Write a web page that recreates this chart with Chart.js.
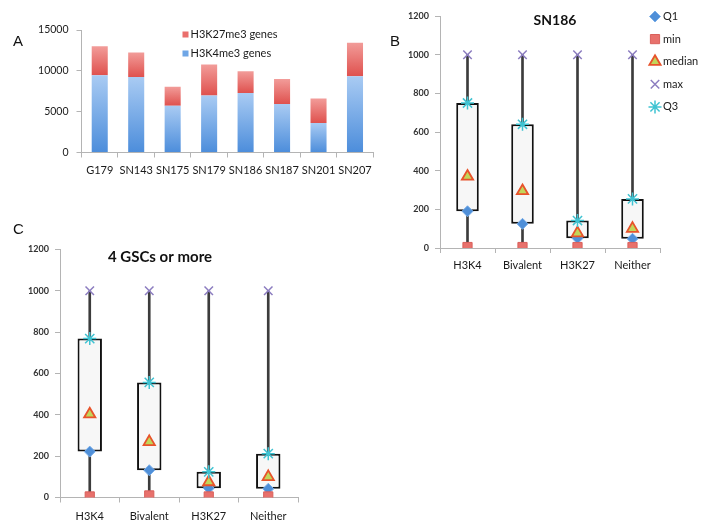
<!DOCTYPE html>
<html><head><meta charset="utf-8">
<script src="https://cdn.jsdelivr.net/npm/chart.js@4.4.1/dist/chart.umd.min.js"></script>
<style>
html,body{margin:0;padding:0;background:#fff;}
#wrap{position:relative;width:702px;height:520px;overflow:hidden;background:#fff;}
canvas{position:absolute;}
.lbl{position:absolute;font-family:'Liberation Sans',Arial,sans-serif;font-size:15px;color:#111;line-height:1;}
</style></head><body>
<div id="wrap">
<canvas id="cA" width="378" height="185" style="left:0;top:0"></canvas>
<canvas id="cB" width="322" height="275" style="left:380px;top:0"></canvas>
<canvas id="cC" width="310" height="290" style="left:0;top:230px"></canvas>
<div class="lbl" style="left:13px;top:33px">A</div>
<div class="lbl" style="left:390px;top:33px">B</div>
<div class="lbl" style="left:13px;top:221px">C</div>
</div>
<script>
// ---------- Panel A data ----------
const sampleNames = ['G179','SN143','SN175','SN179','SN186','SN187','SN201','SN207'];
const h3k4Genes  = [9470, 9230, 5730, 6990, 7280, 5940, 3620, 9350];
const h3k27Genes = [3530, 3020, 2320, 3780, 2680, 3050, 3000, 4100];
const countTicks = [0, 5000, 10000, 15000];

// ---------- Panels B & C data ----------
const boxCategories = ['H3K4','Bivalent','H3K27','Neither'];
const sn186Q1     = [190, 125, 50, 48];
const sn186Min    = [5, 5, 5, 5];
const sn186Median = [370, 295, 77, 100];
const sn186Max    = [1000, 1000, 1000, 1000];
const sn186Q3     = [750, 640, 142, 254];

const gscQ1     = [222, 132, 45, 42];
const gscMin    = [5, 10, 5, 5];
const gscMedian = [403, 269, 75, 100];
const gscMax    = [1000, 1000, 1000, 1000];
const gscQ3     = [769, 557, 124, 212];
const rankTicks = [0, 200, 400, 600, 800, 1000, 1200];

const FONT = "Lato, 'Open Sans', sans-serif";
Chart.defaults.font.family = FONT;
Chart.defaults.color = '#222';

const AXIS = '#b4b4b4';

function drawMarker(ctx, o, x, y) {
  if (Chart.helpers && Chart.helpers.drawPoint) {
    Chart.helpers.drawPoint(ctx, o, x, y);
  } else {
    ctx.beginPath(); ctx.arc(x, y, o.radius, 0, Math.PI * 2); ctx.fill(); ctx.stroke();
  }
}

const miniLegend = {
  id: 'miniLegend',
  afterDraw(chart) {
    const opts = chart.options.miniLegendCfg;
    if (!opts) return;
    const ctx = chart.ctx;
    ctx.save();
    if (opts.title) {
      ctx.font = opts.title.font;
      ctx.fillStyle = '#111';
      ctx.textAlign = 'center';
      ctx.textBaseline = 'middle';
      ctx.fillText(opts.title.text, opts.title.x, opts.title.y);
    }
    ctx.font = opts.font;
    ctx.textAlign = 'left';
    ctx.textBaseline = 'middle';
    opts.items.forEach((idx, k) => {
      const ds = chart.data.datasets[idx];
      const x = opts.x, y = opts.y + k * opts.gap;
      if (opts.kind === 'box') {
        ctx.fillStyle = ds.legendColor;
        ctx.fillRect(x - opts.size / 2, y - opts.size / 2, opts.size, opts.size);
      } else {
        ctx.fillStyle = ds.pointBackgroundColor;
        ctx.strokeStyle = ds.pointBorderColor;
        ctx.lineWidth = ds.pointBorderWidth;
        drawMarker(ctx, {pointStyle: ds.pointStyle, radius: ds.pointRadius, rotation: 0, borderWidth: ds.pointBorderWidth}, x, y);
      }
      ctx.fillStyle = '#1a1a1a';
      ctx.fillText(ds.label, x + opts.textOffset, y);
    });
    ctx.restore();
  }
};

function barGradient(c, lowArr, highArr, cTop, cBot, fallback) {
  const chart = c.chart;
  const ys = chart.scales && chart.scales.y;
  if (!ys || c.dataIndex === undefined) return fallback;
  const i = c.dataIndex;
  const yTop = ys.getPixelForValue(highArr[i]);
  const yBot = ys.getPixelForValue(lowArr[i]);
  if (!isFinite(yTop) || !isFinite(yBot) || yTop === yBot) return fallback;
  const g = chart.ctx.createLinearGradient(0, yTop, 0, yBot);
  g.addColorStop(0, cTop);
  g.addColorStop(1, cBot);
  return g;
}
const zeros = sampleNames.map(() => 0);
const totals = h3k4Genes.map((v, i) => v + h3k27Genes[i]);

function axisCommon() {
  return {
    grid: {display: true, drawOnChartArea: false, drawTicks: true, tickLength: 5, color: AXIS},
    border: {display: true, color: AXIS, width: 1}
  };
}
const plain = v => String(v);

// ---------- Panel A ----------
new Chart(document.getElementById('cA'), {
  type: 'bar',
  data: {
    labels: sampleNames,
    datasets: [
      {label: 'H3K4me3 genes', data: h3k4Genes, legendColor: '#6fa6e6',
       backgroundColor: c => barGradient(c, zeros, h3k4Genes, '#a9cbf3', '#4c8ddb', '#6fa6e6'),
       barPercentage: 0.44, categoryPercentage: 1, borderWidth: 0},
      {label: 'H3K27me3 genes', data: h3k27Genes, legendColor: '#ea6f6c',
       backgroundColor: c => barGradient(c, h3k4Genes, totals, '#f29c99', '#df514e', '#ea6f6c'),
       barPercentage: 0.44, categoryPercentage: 1, borderWidth: 0}
    ]
  },
  options: {
    responsive: false, animation: false, devicePixelRatio: 1,
    layout: {padding: {left: 0, top: 30, right: 4, bottom: 0}},
    plugins: {legend: {display: false}, tooltip: {enabled: false}},
    miniLegendCfg: {kind: 'box', items: [1, 0], x: 185.5, y: 34.5, gap: 19, size: 6, textOffset: 5, font: "11px " + FONT},
    scales: {
      x: Object.assign(axisCommon(), {stacked: true, afterFit: s => { s.height = 32.5; },
        ticks: {font: {size: 11}, color: '#1a1a1a', padding: 6, maxRotation: 0, autoSkip: false}}),
      y: Object.assign(axisCommon(), {stacked: true, min: 0, max: 15000,
        afterFit: s => { s.width = 81.5; },
        afterBuildTicks: s => { s.ticks = countTicks.map(v => ({value: v})); },
        ticks: {font: {size: 10.5}, color: '#1a1a1a', padding: 8, callback: plain}})
    }
  },
  plugins: [miniLegend]
});

// ---------- Box panels ----------
function pointDs(label, data, style, bg, border, bw, radius, order) {
  return {type: 'line', label, data, showLine: false, order,
    pointStyle: style, pointRadius: radius, pointHoverRadius: radius,
    pointBackgroundColor: bg, pointBorderColor: border, pointBorderWidth: bw,
    backgroundColor: bg, borderColor: border};
}

function boxChart(id, cfg) {
  return new Chart(document.getElementById(id), {
    type: 'bar',
    data: {
      labels: boxCategories,
      datasets: [
        pointDs('Q1', cfg.q1, 'rectRot', '#4f8fd8', '#7aaee8', 1, 5.5, 5),
        pointDs('min', cfg.min, 'rect', '#e8716c', '#d9605b', 1, 6.5, 4),
        pointDs('median', cfg.median, 'triangle', '#c2d65a', '#e8532b', 1.8, 6.5, 3),
        pointDs('max', cfg.max, 'crossRot', '#8c7dc0', '#8c7dc0', 1.5, 6, 2),
        pointDs('Q3', cfg.q3, 'star', '#3fc3d2', '#3fc3d2', 1.5, 6.5, 1),
        {type: 'bar', label: 'range', data: cfg.min.map((v, i) => [v, cfg.max[i]]),
         backgroundColor: '#3c3c3c', barThickness: 2, grouped: false, order: 30, borderWidth: 0},
        {type: 'bar', label: 'IQR', data: cfg.q1.map((v, i) => [v, cfg.q3[i]]),
         backgroundColor: '#f7f7f7', borderColor: '#111', borderWidth: 2, borderSkipped: false,
         grouped: false, barPercentage: 0.41, categoryPercentage: 1, order: 20}
      ]
    },
    options: {
      responsive: false, animation: false, devicePixelRatio: 1,
      layout: {padding: cfg.padding},
      plugins: {legend: {display: false}, tooltip: {enabled: false}},
      miniLegendCfg: cfg.legend,
      scales: {
        x: Object.assign(axisCommon(), {afterFit: s => { s.height = cfg.xh; },
          ticks: {font: {size: 11}, color: '#1a1a1a', padding: cfg.xpad, maxRotation: 0, autoSkip: false}}),
        y: Object.assign(axisCommon(), {min: 0, max: 1200,
          afterFit: s => { s.width = 60; },
          afterBuildTicks: s => { s.ticks = rankTicks.map(v => ({value: v})); },
          ticks: {font: {size: 9, weight: 'bold'}, color: '#333', padding: 6, callback: plain}})
      }
    },
    plugins: [miniLegend]
  });
}

boxChart('cB', {
  q1: sn186Q1, min: sn186Min, median: sn186Median, max: sn186Max, q3: sn186Q3,
  padding: {left: 0, top: 16, right: 42, bottom: 0}, xh: 27, xpad: 6,
  legend: {kind: 'point', items: [0, 1, 2, 3, 4], x: 275, y: 16.5, gap: 22.6, textOffset: 8,
    font: "11px " + FONT, title: {text: 'SN186', x: 175, y: 20, font: "bold 14px " + FONT}}
});

boxChart('cC', {
  q1: gscQ1, min: gscMin, median: gscMedian, max: gscMax, q3: gscQ3,
  padding: {left: 0, top: 19.5, right: 12, bottom: 0}, xh: 22.5, xpad: 7,
  legend: {kind: 'point', items: [], x: 0, y: 0, gap: 0, textOffset: 0,
    font: "11px " + FONT, title: {text: '4 GSCs or more', x: 160, y: 27, font: "bold 15px " + FONT}}
});
</script>
</body></html>
